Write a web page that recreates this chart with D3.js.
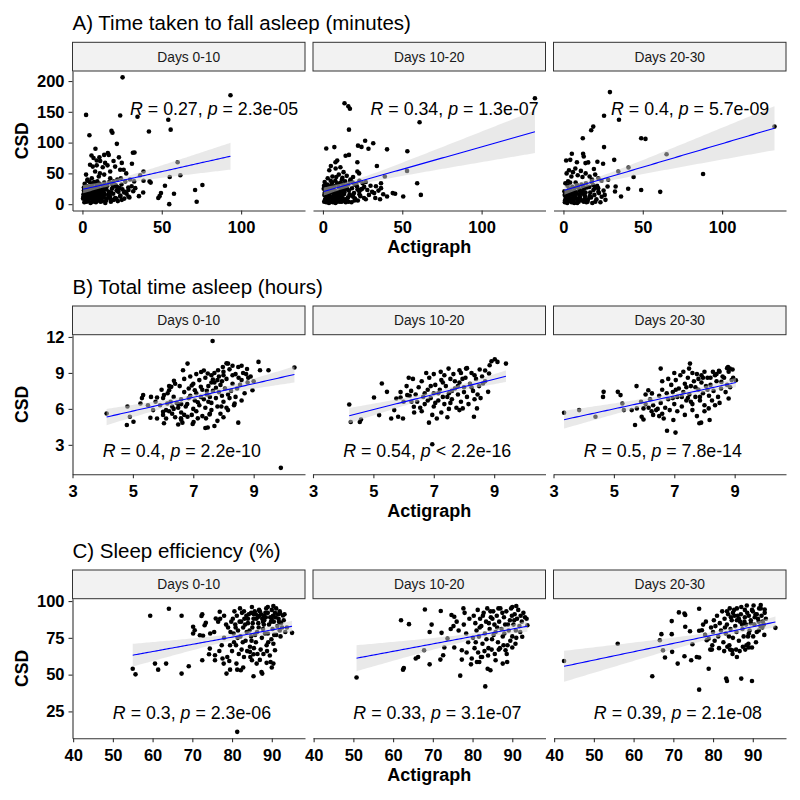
<!DOCTYPE html>
<html><head><meta charset="utf-8">
<script src="https://cdn.jsdelivr.net/npm/d3@7"></script>
<style>body{margin:0;background:#fff} text{font-family:"Liberation Sans",Arial,sans-serif}</style>
</head><body><svg id="c" width="800" height="800"></svg>
<script>
// ---- Data: [Actigraph, CSD] per facet ----
const a1 = [[25.3,206],[93.3,177],[2.3,145],[23.8,144],[34.7,142],[54.1,137],[55.6,121],[4.4,112],[18.3,119],[18.9,116],[41.9,118],[21.7,98],[8.2,90],[32.8,84],[60,68],[61.7,47],[55,44],[42.3,37],[43,35],[52,30],[75.6,31],[71,23],[57.7,17],[49.5,18],[48.6,13],[47.8,10],[54.7,0],[72,4],[38.3,19],[35.6,13],[38.5,38],[36.4,47],[38.5,53],
[5.7,79],[7,75],[10.7,76],[16,83],[16.6,80],[13.7,80],[23,76],[11.2,70],[9,71],[14.3,67],[15.8,63],[19.6,70],[20.6,61],[23.8,56],[26,56],[27.6,50],[24.8,67],[4.8,64],[6.5,61],[9,63],[12.8,60],[17.5,53],[11,50],[8,53],[2.3,48],[3.2,40],[5.9,42],[10.3,45],[13.7,48],[17.5,42],[19.6,37],[22,40],[24.2,42],[27,37],[30,40],[32.6,37],[31,29],[29,23],[26.3,19],[23.8,12.5],[24.8,7],[21.3,9],[29,12.5],[32,21],[33.3,26],[31.8,83.5],[31.2,65.6],
[1.2,3],[2.8,8],[0.6,12],[3.5,5],[4.1,15],[1.8,19],[5.2,10],[6.4,4],[2.5,24],[7.1,13],[5.8,21],[8.3,7],[3.2,29],[9.2,17],[6.7,27],[10.4,11],[1.4,33],[11.6,22],[8.8,31],[4.6,36],[12.3,5],[7.9,19],[13.5,14],[9.7,24],[2.1,16],[14.2,28],[10.9,33],[6.1,8],[15.4,9],[11.8,18],[3.9,11],[16.7,20],[12.9,26],[5.5,30],[17.3,13],[13.8,35],[8.5,3],[18.6,25],[14.9,6],[0.9,22],[19.4,17],[15.7,30],[7.4,36],[20.6,10],[16.2,15],[4.3,26],[21.8,28],[17.9,4],[9.9,14],[22.7,20],[18.4,33],[11.1,8],[23.9,14],[19.8,7],[12.6,30],[25.2,24],[20.9,31],[3.7,19],[26.4,9],[21.5,22],[13.2,21],[27.8,17],[2.2,6],[28.9,27],[6.9,16],[24.6,32],[10.2,27],[15.1,24],[16.9,36],[5.1,2],[14.4,2],[22.3,5],[1.6,27],[8.1,26],[12.1,13],[18.1,19],[9.4,37],[0.4,9],[7.6,10],[3.1,38],[19.2,28],[11.4,4],[26.8,20],[29.6,11],[13.9,17],[6.3,33],[17.6,9],[23.4,26],[4.8,13],[10.6,20],
[0.7,16],[1.9,11],[2.6,4],[3.3,21],[4.4,9],[5.3,17],[6.2,13],[7.3,5],[8.1,22],[9.1,10],[10.1,6],[11,16],[12,9],[0.9,27],[2.4,14],[3.8,7],[5,24],[6.6,19],[7.8,14],[8.9,18],[9.8,8],[10.8,23],[12.6,18],[13.3,11],[1.5,20],[4.9,19],[6,11],[3,13],[8.6,12],[11.8,11]];
const a2 = [[133.6,172],[13.6,164],[16,159],[17,155],[60.9,133],[16.4,121],[2.1,90.5],[7.2,92.7],[26.6,103],[22.1,95],[24.3,93],[31.7,99],[28.7,90],[40.4,89],[53.2,86],[14.3,78.6],[16.4,80],[21.7,68],[34,62],[9,71],[7.9,68],[53,54],[39,45],[59.4,34],[61.7,15],[50.6,12.5],[44,18],[45.5,17],[40.4,12.5],[36.6,34],[36.6,26],[33.4,29],[32.3,18],[28,23],[29,15],[21.7,53],[22.8,50],[17.4,40],[25,34],
[5,62],[8,58],[11,60],[4,55],[13,52],[10,48],[6,45],[15,46],[19,44],[3,42],[12,40],[23,38],[27,36],[30,30],[20,32],[26,28],[24,24],[31,20],[35,22],[38,16],[33,10],[27,8],[22,6],[36,8],
[0.8,4],[2.4,9],[1.5,14],[3.6,6],[4.4,18],[2,22],[5.7,11],[6.2,3],[3,27],[7.5,15],[6,24],[8.6,8],[2.7,32],[9.5,19],[7.2,29],[10.8,12],[1.1,36],[11.5,25],[9,34],[4.9,38],[12.7,6],[8.2,21],[13.2,16],[10.1,27],[1.9,18],[14.6,30],[11.2,35],[6.6,10],[15.8,11],[12,20],[4,13],[16.4,22],[13.4,27],[5.2,31],[17.7,14],[14,37],[8.9,4],[18.3,26],[15,7],[0.5,25],[19.6,18],[16,32],[7.8,38],[20.2,9],[16.8,16],[4.6,28],[21.4,29],[18,3],[10.3,15],[22.9,21],[18.8,35],[11.4,9],[23.6,13],[19.9,6],[12.8,31],[24.8,25],[21,33],[3.4,20],[25.9,10],[21.8,24],[13.7,22],[1.3,7],[6.9,17],[10.6,4],[15.3,25],[17.2,38],[14.4,3],[5.9,35],[9.8,30],[19.1,12],[3.8,2],[12.3,43],[8.4,44],[0.7,30],[16.1,4],[23,16],[7,6],[2.6,12],
[0.9,15],[1.8,10],[2.9,5],[3.4,16],[4.5,11],[5.5,20],[6.3,7],[7.4,21],[8.2,12],[9.3,6],[10.2,20],[11,14],[12.4,10],[13.5,19],[14.3,8],[2.1,3],[5,4],[7.9,2],[1.2,19],[4.1,23],[6.7,14],[9.6,11],[11.9,4],[3.7,9],[8.8,16]];
const a3 = [[29.3,182],[25.6,143.6],[35,137],[18.8,126],[17.5,120],[12.2,107],[49,107],[51.7,106],[133,126],[25.6,92.7],[5.3,82],[12.4,82],[12.8,77.5],[65,81],[32,72],[1.7,71],[4.3,72],[8.5,68],[13.9,66.7],[15.6,67.8],[21.4,69],[19.2,57],[25,65.6],[41,59.6],[34.6,53],[44.2,44],[88,49],[40.8,25],[49,23],[61,20],[36.3,12.5],[32.9,28.7],[32.5,20.6],[28.2,39.6],[27.8,28.7],
[3.5,55],[6,52],[2,50],[9,47],[11,54],[14,50],[16.5,45],[20,48],[22,42],[24,38],[5,45],[12,44],[7.5,58],[18,40],
[0.9,3],[2.2,7],[1.4,12],[3.3,5],[4.7,16],[2.3,20],[5.4,9],[6.8,2],[3.5,25],[7.3,12],[6.1,20],[8.9,6],[2.6,30],[9.8,16],[7,26],[10.5,9],[1.2,34],[11.9,21],[8.6,31],[4.2,35],[12.8,4],[8,18],[13.6,13],[10,24],[1.7,16],[14.8,27],[11.4,32],[6.4,7],[15.5,8],[12.2,17],[3.9,10],[16.9,19],[13.1,25],[5.6,28],[17.4,11],[14.2,34],[8.7,2],[18.9,23],[15.2,4],[0.6,21],[19.5,15],[16.3,28],[7.7,35],[20.8,8],[16.6,13],[4.5,23],[21.9,26],[18.2,2],[10.3,13],[22.4,18],[18.7,31],[11.7,6],[24.1,12],[20.1,4],[12.4,28],[25.3,22],[21.2,30],[3.1,17],[26.5,7],[22,20],[13.9,19],[1,6],[7.1,15],[14.5,3],[23.3,3],[9.3,28],[17.8,36],[5.1,3],[2.9,37],[19.7,26],[26,15],
[1.5,9],[3.2,14],[4.8,5],[6.3,11],[8.2,9],[9.6,4],[11.1,18],[2.4,2],[5.9,15],[7.6,20],[13.3,8],[10.6,21],[0.8,15],[4,19]];
const b1 = [[7.64,11.66],[9.9,1.08],[4.13,5.62],[4.8,4.65],[4.82,6.2],[4.9,5.35],[5.02,4.93],[5.25,6.45],[5.34,7.15],[5.58,5.26],[5.67,5.9],[5.8,6.95],[6.03,4.8],[6,5.76],[6.1,5.9],[6.14,6.45],[6.03,7.15],[6.2,7.56],[6.27,7.84],[6.36,8.34],[6.66,9.22],[6.81,9.78],[8.49,4.85],[8.78,9.33],[9.16,9.92],[9.21,9.22],[9.49,9.22],[10.35,9.45],[8.96,7.56],[8.82,8.6],[8.6,8.4],[8.15,9.78],[7.98,9.5],[8.49,9.5],[7.82,9.22],[7.26,9.08],[7.48,8.95],[8.37,6.45],[8.15,5.9],[7.93,6.2],
[6.59,5.21],[6.64,4.85],[6.81,5.35],[6.98,4.74],[7.01,4.9],[7.15,5.21],[7.42,5.21],[7.54,5.54],[7.7,4.57],[7.48,4.45],
[6.5,6.1],[6.6,6.8],[6.7,7.4],[6.55,7.9],[6.8,6.4],[6.9,7.1],[6.85,7.7],[7.0,6.0],[7.05,6.7],[7.1,7.3],[7.0,8.1],[7.2,6.3],[7.25,7.0],[7.3,7.6],[7.2,8.4],[7.4,6.1],[7.35,6.8],[7.45,7.2],[7.5,7.9],[7.4,8.6],[7.6,6.5],[7.55,7.0],[7.65,7.5],[7.7,8.2],[7.8,6.2],[7.75,6.9],[7.85,7.4],[7.9,8.0],[8.0,6.6],[7.95,7.1],[8.05,7.7],[8.1,8.5],[8.2,6.9],[8.25,7.5],[8.3,8.1],[6.45,6.5],[6.35,7.0],[6.25,6.6],[6.15,7.3],[6.0,6.9],[5.9,6.3],[5.75,6.6],[6.3,5.6],[6.6,5.7],[6.95,5.5],[7.3,5.4],[7.6,5.9],[7.9,5.6],[8.1,6.1],[8.4,7.0],[8.45,7.7],[8.55,8.0],[8.7,7.3],[8.8,8.2],[6.7,8.5],[6.9,8.7],[7.1,8.9],[7.35,9.2],[7.6,8.8],[7.85,8.7],[8.0,9.1],[8.3,8.8],[6.4,8.1],[6.2,7.9],[5.95,7.6],[5.6,7.0],[5.5,6.3],[5.3,6.9],[6.1,5.2],[6.5,4.7],[7.4,4.4],[7.8,5.0],[6.75,6.2],[7.15,6.55],[7.5,6.6],[7.25,7.85],[6.95,7.95],[7.65,8.45],[7.1,5.8],[6.6,6.4],[7.45,7.5],[7.75,7.75],[6.85,6.9],[7.05,7.55],[8.15,7.2],[8.35,6.3],[8.6,6.7],[8.0,5.3],[6.3,6.2],[7.55,5.6],[8.9,8.7],[9.0,8.3],[8.65,9.0],
[7.8,8.4],[8.0,8.8],[8.2,9.3],[8.4,8.9],[8.1,9.8],[8.6,9.6],[8.75,8.9],[7.7,9.0],[8.3,9.6],[8.5,8.6],[7.95,8.3],[7.6,8.2],[6.2,5.8],[6.4,5.3],[6.0,5.5],[6.6,5.1],[5.8,5.2],[6.35,6.0],[6.7,5.5],[6.5,6.4]];
const b2 = [[4.2,6.37],[4.25,4.9],[4.55,4.9],[4.59,5.12],[5.02,6.95],[5.28,8.12],[5.45,7.42],[5.19,5.48],[5.59,5.2],[5.82,5.35],[5.98,5.2],[5.69,5.9],[5.76,6.87],[5.9,6.95],[6.12,7.15],[6.26,6.59],[6.34,6.18],[6.17,8.6],[6.31,8.5],[6.84,4.85],[7.23,9.09],[7.49,9.36],[7.85,5.9],[7.96,6.04],[8.33,5.35],[8.43,6.04],[8.52,9.28],[8.85,9.64],[8.83,8.95],[8.91,9.97],[9.02,10.14],[9.11,9.92],[9.39,9.78],[8.8,7.42],[8.63,8.12],[8.07,9.36],[7.85,9.22],[6.95,3.05],
[6.4,7.2],[6.5,7.8],[6.45,6.6],[6.6,8.3],[6.65,7.0],[6.7,6.4],[6.8,7.6],[6.85,8.6],[6.9,6.9],[7.0,7.3],[7.05,8.0],[7.0,6.2],[7.15,6.7],[7.2,7.6],[7.25,8.4],[7.3,7.0],[7.4,7.9],[7.35,6.4],[7.5,7.3],[7.55,8.5],[7.5,6.0],[7.6,6.8],[7.7,7.7],[7.65,8.9],[7.8,7.2],[7.85,8.2],[7.9,6.6],[8.0,7.8],[8.05,8.6],[8.1,7.0],[8.2,8.1],[8.25,9.0],[8.3,7.5],[8.4,8.5],[8.5,7.9],[8.15,6.4],[7.75,6.1],[7.25,5.7],[6.95,5.5],[7.45,5.3],[7.1,5.2],[6.6,5.8],[6.55,6.1],[6.25,7.5],[6.1,7.9],[6.0,6.6],[5.9,7.4],[6.75,9.0],[7.0,8.9],[7.35,8.8],[7.9,9.0],[8.1,9.4],[8.35,8.8],[8.6,8.7],[8.7,8.3],[8.45,7.2],[8.55,6.9],[6.9,7.9],[7.15,7.3],[7.6,7.5],[7.8,7.9],[7.45,7.0],[7.7,8.3],[8.0,7.4],[8.25,7.8],[7.05,6.5],[6.8,6.7],[7.55,6.5],[8.35,6.8],[6.7,7.3],[7.3,8.2],[7.95,8.5],[6.2,7.1],[6.35,5.7],[8.7,9.2]];
const b3 = [[3.35,5.68],[3.85,5.9],[4.39,5.35],[4.66,7.42],[4.64,7.0],[5.13,7.42],[5.22,7.15],[5.28,6.45],[5.33,5.9],[5.7,4.65],[5.75,7.9],[5.59,5.9],[5.76,6.04],[5.98,6.04],[5.92,5.35],[5.98,5.12],[6.14,7.56],[6.26,7.29],[6.55,9.36],[6.65,5.2],[6.76,4.18],[7.04,4.02],[6.97,5.07],[7.49,9.36],[7.52,9.78],[7.83,4.8],[7.89,4.85],[8.14,6.04],[8.17,5.07],[8.8,6.87],[8.78,9.5],[8.84,9.36],[8.93,9.28],[9.04,8.39],[8.56,8.25],[8.28,9.09],[8.48,9.17],
[6.5,7.1],[6.55,6.5],[6.6,7.6],[6.7,6.1],[6.75,7.3],[6.8,6.8],[6.9,8.0],[6.95,7.4],[7.0,6.4],[7.05,8.4],[7.1,7.0],[7.15,7.7],[7.2,8.8],[7.25,6.2],[7.3,7.4],[7.35,8.1],[7.4,6.7],[7.45,8.6],[7.5,7.2],[7.55,7.9],[7.6,6.4],[7.65,8.3],[7.7,7.0],[7.75,8.9],[7.8,7.6],[7.85,6.7],[7.9,8.2],[7.95,7.3],[8.0,6.3],[8.05,7.9],[8.1,8.6],[8.15,7.1],[8.2,8.0],[8.25,6.7],[8.3,7.5],[8.4,8.3],[8.45,7.0],[8.55,7.7],[8.6,8.7],[8.7,7.4],[8.75,8.0],[8.85,7.8],[8.9,8.4],[6.4,5.9],[6.3,6.3],[6.2,6.8],[6.05,7.2],[6.6,5.6],[7.1,5.8],[7.35,5.5],[7.6,5.9],[7.75,5.4],[8.0,5.8],[6.85,5.9],[6.45,6.0],[6.25,5.8],[7.0,9.0],[7.3,9.1],[7.6,9.0],[8.0,9.1],[8.35,8.8],[8.75,9.4],[6.8,8.5],[6.6,8.3],[7.25,7.0],[7.55,6.6],[7.85,7.0],[8.1,7.6],[7.05,7.6],[7.4,7.8],[7.7,7.8],[7.95,8.6],[6.95,6.9],[7.45,6.9],[8.35,6.3],[8.5,6.5],[6.15,6.1],[7.8,8.5],[8.2,8.6],
[8.5,9.1],[8.65,8.6],[8.8,9.1],[8.95,8.6],[8.4,8.9],[7.9,8.8],[6.3,5.5],[6.5,5.4],[6.05,6.4],[5.9,6.6]];
const c1 = [[81.3,11.1],[55,54],[55.7,50.2],[59.4,90],[64.1,94.8],[60.6,57.5],[61.4,53.4],[63.4,57.5],[67.3,90],[67.3,50.7],[69.1,55.7],[70.2,82.5],[70.6,80.2],[70.2,78],[72.5,91],[72.3,89.8],[72.7,76.4],[71.9,76.8],[72.5,59.8],[73.1,83.6],[73.4,85.2],[74.4,67.7],[74.2,63.9],[75.7,63.2],[75.9,88.2],[76.9,92.7],[75.7,59.8],[76.8,66.1],[77.4,70],[77.6,61],[77.9,57.5],[78.6,50.7],[79.5,53.4],[78.8,62],[79.3,59.3],[81.1,57.5],[81.3,53.4],[82.2,53],[82.8,54.8],[84.5,65.5],[85.4,63.9],[85,59.8],[85.4,48.9],[86.2,57.5],[87.4,51.8],[87.6,50.7],[88.7,58],[89.7,58.6],[90.4,57.5],[90,54.8],[90.8,66.6],[90.4,71],[95.1,78.4],[90.4,96.6],[91.1,95],[92.1,91.6],[92.8,90.2],
[74.5,78],[75.5,79],[76.5,86],[77,88],[78,90],[78.5,84],[79,82],[78,75],[79.5,70],[80,66],[80.5,72],[79.8,86],
[80.2,88],[80.8,84],[81.2,90],[81.5,80],[81.9,86],[82.1,76],[82.5,92],[82.8,82],[83.1,88],[83.4,73],[83.7,79],[84,85],[84.2,91],[84.5,69],[84.8,76],[85.1,82],[85.4,88],[85.7,93],[86,72],[86.3,79],[86.6,85],[86.9,90],[87.2,67],[87.5,75],[87.8,81],[88.1,87],[88.4,92],[88.7,70],[89,78],[89.3,84],[89.6,89],[89.9,74],[90.2,81],[90.5,86],[90.8,92],[91.1,77],[91.4,83],[91.7,88],[92,80],[92.3,85],[92.6,82],[93,87],[93.4,79],[80.4,78],[81,70],[81.7,64],[82.4,67],[83,62],[83.8,66],[84.6,62],[85.5,68],[86.4,64],[87,60],[87.9,64],[88.8,66],[89.5,63],[80.6,93],[82,95],[85,96],[86.8,94],[88.6,95],[87.3,91],[84.4,80],[83.3,84],[86.1,88],[85.8,77],[88.3,78],[89.1,72],[90.6,77],[82.7,72],[84.9,73],[81.4,75],[79.6,79],[80.9,82],[83.6,90],[86.7,82],[88,84],[89.8,86],[91.6,91],[92.2,76],[93.8,82],[85.2,85],[87.6,88],[82.3,86],[90.3,90],
[86,91],[87,93],[88,90],[89,92],[90,94],[91,89],[92,93],[89,96],[86.5,89],[87.8,86],[90,88],[91.8,86],[93.2,91],[88.5,89],[85.5,91],[84.8,92],[83,93],[84,88]];
const c2 = [[50.8,48],[62.7,54.5],[62.5,53.4],[62,87],[64,84.3],[68,94.3],[72,93.2],[69.7,84],[69.2,79],[67.8,66.6],[65.7,61],[66.3,62],[69.2,57],[71.9,60.2],[72.2,78.4],[72.9,68.4],[72.6,63.2],[73.7,74.5],[75.4,68.4],[76.9,49.3],[77.3,60.2],[77.3,66.6],[77.7,95],[78,92],[74.7,90.5],[75.4,89.3],[79.6,57],[81.1,58.6],[81.7,58.6],[82.4,62],[83.2,42],[83.8,54],[84.5,53],[85.8,59.8],[87.6,57.5],[88.7,58.6],[86.6,67],[88.3,66.6],[90,68.4],[90.8,71],[92.5,75.7],[93.6,88],[93.8,83.6],[90,96],[91,96.6],
[74.5,81],[75.2,83],[76,86],[76.5,80],[77.8,84],[78.4,78],[78.9,72],[79.2,88],[78.5,65],[79.8,61],
[80.3,90],[80.7,85],[81,80],[81.3,94],[81.6,76],[81.9,88],[82.2,83],[82.5,71],[82.8,92],[83.1,78],[83.4,86],[83.7,95],[84,68],[84.3,81],[84.6,89],[84.9,74],[85.2,93],[85.5,84],[85.8,79],[86.1,90],[86.4,72],[86.7,86],[87,95],[87.3,81],[87.6,76],[87.9,89],[88.2,84],[88.5,93],[88.8,70],[89.1,80],[89.4,87],[89.7,95],[90,76],[90.3,84],[90.6,91],[90.9,80],[91.2,88],[91.5,94],[91.8,83],[92.1,90],[92.4,86],[92.8,92],[93.2,89],[80.5,68],[81.4,65],[82.1,62],[83,66],[83.9,63],[84.8,67],[85.6,64],[86.9,68],[87.8,70],[88.6,64],[89.5,73],[80.1,75],[80.8,72],[85,88],[86.2,82],[87.5,92],[88,78],[89.9,90],[84.1,85],[82.6,90],[83.5,74],[86.5,95],[91,75],[92,79],[81.8,82],[85.3,77],[88.9,84],[90.5,87],[84.5,93]];
const c3 = [[42.5,59.3],[56,71],[64.7,48.9],[66.6,73.4],[67,77.5],[67.4,66.6],[67.9,61.6],[69.6,86.4],[69.6,77.5],[69.7,65.5],[71.1,57.5],[71.4,92.3],[72.8,91.6],[73,90.5],[73,82.5],[72.8,62.5],[74.2,79.5],[74.5,59.8],[74.8,70.7],[75.9,62],[76.5,61.6],[76.5,94.8],[76.5,79.8],[77.2,80.2],[76.5,39.8],[78.9,54],[78.4,73.4],[78.9,74.5],[79.3,67],[79.7,67],[83.3,47.3],[83.5,45.7],[87.1,47.3],[89.8,45.7],[86,62],[88.1,67],[89,68.4],[89.8,68.4],[84.8,66.6],[84.3,67],[95.7,81.8],[92,97.3],[93,94.3],
[77.5,84],[78.2,86],[79.5,82],[78,77],[80,79],
[80.2,87],[80.6,83],[81,90],[81.3,76],[81.7,85],[82,80],[82.3,93],[82.6,72],[82.9,88],[83.2,78],[83.5,84],[83.8,91],[84.1,70],[84.4,81],[84.7,87],[85,75],[85.3,94],[85.6,83],[85.9,79],[86.2,90],[86.5,73],[86.8,86],[87.1,96],[87.4,81],[87.7,76],[88,89],[88.3,84],[88.6,92],[88.9,71],[89.2,80],[89.5,87],[89.8,94],[90.1,76],[90.4,84],[90.7,91],[91,79],[91.3,88],[91.6,95],[91.9,83],[92.2,90],[92.5,86],[92.9,77],[93.3,88],[81.5,68],[82.8,66],[83.6,69],[84.9,64],[85.8,67],[86.7,66],[87.5,69],[88.4,70],[80.4,73],[79.8,70],[86,87],[84.2,95],[90.2,97],[89,78],[87.3,84],[85.4,90],[83,82],[91.5,80],[92.4,82],[84,76],[88.8,76],[90.8,72],
[85,92],[86,95],[87,91],[88,94],[89,90],[90,93],[91,91],[92,95],[93,92],[88.5,97],[86.5,88],[89.5,85],[91.5,86],[87.9,86],[84.5,89],[90.5,89],[92.8,84],[83.5,93]];

const rowTitles = ["A) Time taken to fall asleep (minutes)", "B) Total time asleep (hours)", "C) Sleep efficiency (%)"];
const facetLabels = ["Days 0-10", "Days 10-20", "Days 20-30"];
const rValues = [["0.27","0.34","0.4"],["0.4","0.54","0.5"],["0.3","0.33","0.39"]];
const pValues = [["= 2.3e-05","= 1.3e-07","= 5.7e-09"],["= 2.2e-10","< 2.2e-16","= 7.8e-14"],["= 2.3e-06","= 3.1e-07","= 2.1e-08"]];
const labelX = [30, 4, 50];
const labelY = [145, 2, 20];
const xTicks = [[0,50,100],[3,5,7,9],[40,50,60,70,80,90]];
const yTicks = [[0,50,100,150,200],[3,6,9,12],[25,50,75,100]];
const xTitle = "Actigraph", yTitle = "CSD";

const rows = [[a1,a2,a3],[b1,b2,b3],[c1,c2,c3]];

// ---- Layout ----
const svg = d3.select("#c");
const L = 72.5, PW = 232.5, GAP = 8, STRIP = 28.7, PH = 139.5;
const rowTop = [42.3, 306, 570];
const FONT = '"Liberation Sans",Arial,sans-serif';

function fit(data){
  const n = data.length;
  const mx = d3.mean(data, d=>d[0]), my = d3.mean(data, d=>d[1]);
  let sxx=0, sxy=0;
  data.forEach(d=>{ sxx += (d[0]-mx)**2; sxy += (d[0]-mx)*(d[1]-my); });
  const b = sxy/sxx, a = my - b*mx;
  let ss = 0; data.forEach(d=>{ ss += (d[1]-a-b*d[0])**2; });
  const s = Math.sqrt(ss/(n-2));
  const t = 1.97;
  const ext = d3.extent(data, d=>d[0]);
  const xs = d3.range(0, 81).map(i => ext[0] + (ext[1]-ext[0])*i/80);
  return xs.map(x => {
    const yh = a + b*x;
    const se = s*Math.sqrt(1/n + (x-mx)**2/sxx);
    return {x, y: yh, lo: yh - t*se, hi: yh + t*se};
  });
}

rows.forEach((panels, r) => {
  const all = panels.flat();
  const xe = d3.extent(all, d=>d[0]), ye = d3.extent(all, d=>d[1]);
  const xp = (xe[1]-xe[0])*0.05, yp = (ye[1]-ye[0])*0.05;
  const pTop = rowTop[r] + STRIP, pBot = pTop + PH;
  const y = d3.scaleLinear().domain([ye[0]-yp, ye[1]+yp]).range([pBot, pTop]);

  svg.append("text").attr("x", L).attr("y", rowTop[r]-12)
    .attr("font-size", 20.5).attr("fill", "#000").text(rowTitles[r]);

  panels.forEach((data, c) => {
    const x0 = L + c*(PW+GAP);
    const x = d3.scaleLinear().domain([xe[0]-xp, xe[1]+xp]).range([x0, x0+PW]);
    const g = svg.append("g");
    g.append("rect").attr("x", x0).attr("y", rowTop[r]).attr("width", PW).attr("height", STRIP)
      .attr("fill", "#f2f2f2").attr("stroke", "#333").attr("stroke-width", 1);
    g.append("text").attr("x", x0+PW/2).attr("y", rowTop[r]+STRIP/2).attr("dy", "0.36em")
      .attr("text-anchor", "middle").attr("font-size", 13.8).attr("fill", "#1a1a1a").text(facetLabels[c]);
    g.append("g").selectAll("circle").data(data).join("circle")
      .attr("cx", d=>x(d[0])).attr("cy", d=>y(d[1])).attr("r", 2.3).attr("fill", "#000");
    const f = fit(data);
    g.append("path").datum(f)
      .attr("d", d3.area().x(d=>x(d.x)).y0(d=>y(d.lo)).y1(d=>y(d.hi)))
      .attr("fill", "#d3d3d3").attr("opacity", 0.5);
    g.append("path").datum(f)
      .attr("d", d3.line().x(d=>x(d.x)).y(d=>y(d.y)))
      .attr("fill", "none").attr("stroke", "#0000ff").attr("stroke-width", 1.1);
    const ax = g.append("g").attr("transform", `translate(0,${pBot})`)
      .call(d3.axisBottom(x).tickValues(xTicks[r]).tickSize(4).tickSizeOuter(0).tickPadding(7));
    ax.select(".domain").attr("stroke", "#333").attr("stroke-width", 1.1);
    ax.selectAll(".tick line").attr("stroke", "#333").attr("stroke-width", 1.1);
    ax.selectAll(".tick text").attr("font-size", 16.5).attr("font-weight", "bold")
      .attr("fill", "#000").attr("font-family", FONT);
    const t = g.append("text").attr("x", x(labelX[r])).attr("y", y(labelY[r]))
      .attr("font-size", 17.8).attr("fill", "#000");
    t.append("tspan").attr("font-style", "italic").text("R");
    t.append("tspan").text(" = " + rValues[r][c] + ", ");
    t.append("tspan").attr("font-style", "italic").text("p");
    t.append("tspan").text(" " + pValues[r][c]);
  });

  const ay = svg.append("g").attr("transform", `translate(${L},0)`)
    .call(d3.axisLeft(y).tickValues(yTicks[r]).tickSize(4).tickSizeOuter(0).tickPadding(4));
  ay.select(".domain").attr("stroke", "#333").attr("stroke-width", 1.1);
  ay.selectAll(".tick line").attr("stroke", "#333").attr("stroke-width", 1.1);
  ay.selectAll(".tick text").attr("font-size", 16.5).attr("font-weight", "bold")
    .attr("fill", "#000").attr("font-family", FONT);

  svg.append("text").attr("transform", `translate(28,${(pTop+pBot)/2}) rotate(-90)`)
    .attr("text-anchor", "middle").attr("font-size", 17.5).attr("font-weight", "bold").text(yTitle);
  svg.append("text").attr("x", L + (3*PW+2*GAP)/2).attr("y", pBot + 42.5)
    .attr("text-anchor", "middle").attr("font-size", 18).attr("font-weight", "bold").text(xTitle);
});
</script></body></html>
